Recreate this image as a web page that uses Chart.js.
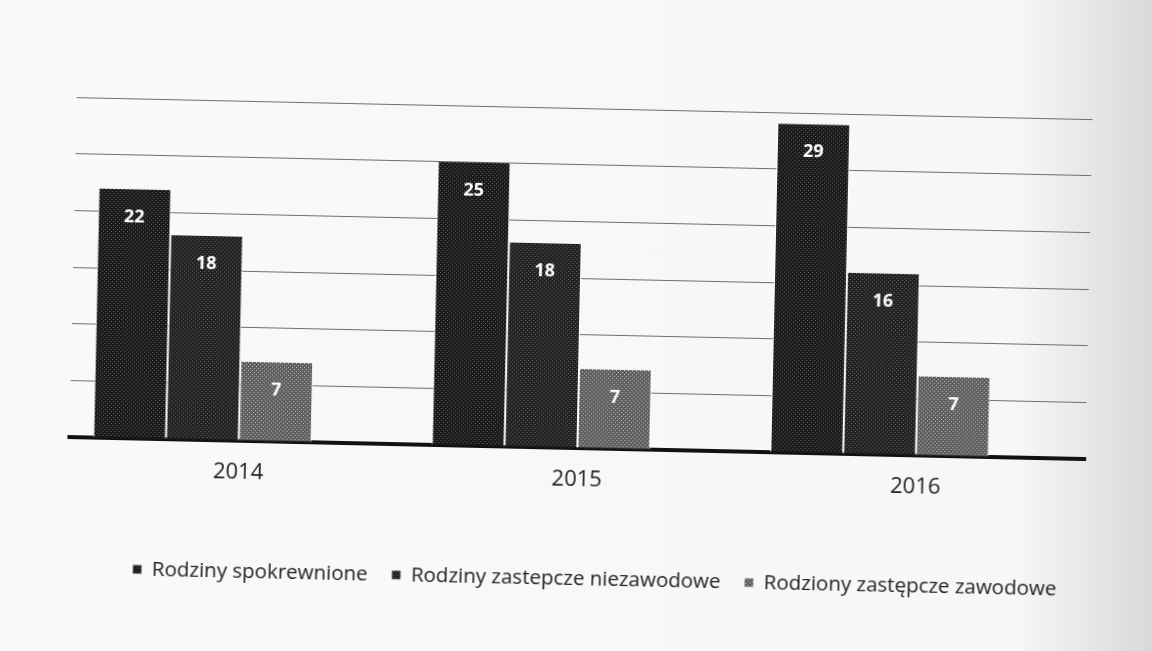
<!DOCTYPE html>
<html>
<head>
<meta charset="utf-8">
<script src="https://cdn.jsdelivr.net/npm/chart.js@4.4.1/dist/chart.umd.min.js"></script>
<style>
  html, body { margin: 0; padding: 0; overflow: hidden; }
  body { background: linear-gradient(to right, #f9f9f9 0%, #f7f7f7 88%, #d9d9d9 100%); }
  #chart { display: block; transform: rotate(1.24deg); transform-origin: 576px 325px; }
</style>
</head>
<body>
<canvas id="chart" width="1152" height="651"></canvas>
<script>
const years = ['2014', '2015', '2016'];
const spokrewnione = [22, 25, 29];
const niezawodowe = [18, 18, 16];
const zawodowe = [7, 7, 7];
// the original sheet had a fourth, empty column reserved in each group
const pusta = [null, null, null];
const seriesNames = ['Rodziny spokrewnione', 'Rodziny zastepcze niezawodowe', 'Rodziony zastępcze zawodowe', ''];

const font = '"Open Sans", "Noto Sans", sans-serif';

// halftone-ish fill, like the printed scan
function halftone(base, dot) {
  const c = document.createElement('canvas');
  c.width = 4; c.height = 4;
  const g = c.getContext('2d');
  g.fillStyle = base;
  g.fillRect(0, 0, 4, 4);
  g.fillStyle = dot;
  g.fillRect(1, 1, 1, 1);
  g.fillRect(3, 3, 1, 1);
  return g.createPattern(c, 'repeat');
}

const fills = [
  halftone('#181818', '#6e6e6e'),
  halftone('#222222', '#666666'),
  halftone('#5e5e5e', '#c4c4c4'),
  '#000000',
];

const valueLabels = {
  id: 'valueLabels',
  afterDatasetsDraw(chart) {
    const ctx = chart.ctx;
    ctx.save();
    ctx.fillStyle = '#ffffff';
    ctx.font = 'bold 18px ' + font;
    ctx.textAlign = 'center';
    ctx.textBaseline = 'middle';
    chart.data.datasets.forEach((ds, i) => {
      chart.getDatasetMeta(i).data.forEach((bar, j) => {
        if (ds.data[j] == null) return;
        ctx.fillText(String(ds.data[j]), bar.x, bar.y + 28);
      });
    });
    ctx.restore();
  },
};

// legend sits a bit right of the plot centre in the original
const legendShift = {
  id: 'legendShift',
  afterLayout(chart) {
    chart.legend.left += 20;
    chart.legend.right += 20;
  },
};

new Chart(document.getElementById('chart'), {
  type: 'bar',
  data: {
    labels: years,
    datasets: [spokrewnione, niezawodowe, zawodowe, pusta].map((d, i) => ({
      label: seriesNames[i],
      data: d,
      backgroundColor: fills[i],
      borderColor: '#ffffff',
      borderWidth: { left: 1, right: 1 },
      borderSkipped: 'bottom',
      categoryPercentage: 0.86,
      barPercentage: 1,
    })),
  },
  options: {
    responsive: false,
    animation: false,
    layout: { padding: { top: 108, left: 72, right: 64, bottom: 52 } },
    scales: {
      x: {
        grid: { display: false },
        border: { display: true, color: '#111111', width: 4 },
        ticks: { color: '#222222', font: { family: font, size: 22 }, padding: 10 },
        afterFit: (scale) => { scale.height += 42; },
      },
      y: {
        min: 0,
        max: 30,
        ticks: { display: false, stepSize: 5 },
        border: { display: false },
        grid: { color: '#6e6e6e', lineWidth: 1, drawTicks: false },
      },
    },
    plugins: {
      legend: {
        position: 'bottom',
        labels: {
          color: '#222222',
          font: { family: font, size: 20.5 },
          boxWidth: 9,
          boxHeight: 9,
          padding: 24,
          filter: (item) => item.text !== '',
        },
      },
      tooltip: { enabled: false },
    },
  },
  plugins: [valueLabels, legendShift],
});
</script>
</body>
</html>
